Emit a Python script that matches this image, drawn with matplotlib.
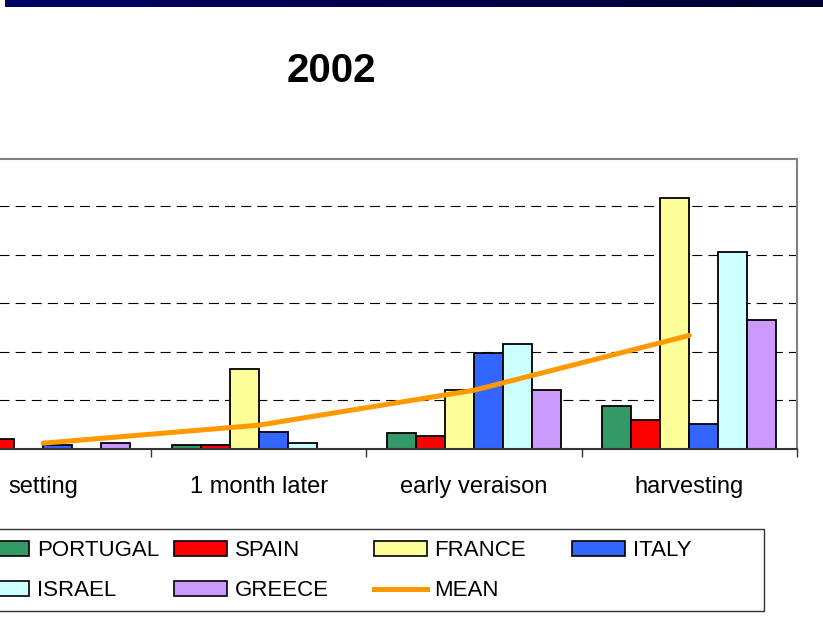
import matplotlib
matplotlib.use('Agg')
import matplotlib.pyplot as plt
import numpy as np
from matplotlib.patches import Patch, Rectangle
from matplotlib.lines import Line2D
from matplotlib.colors import LinearSegmentedColormap

plt.rcParams['font.family'] = ['Liberation Sans', 'DejaVu Sans']

# stages and values (y units = one gridline step)
stages = ['setting', '1 month later', 'early veraison', 'harvesting']
countries = ['PORTUGAL', 'SPAIN', 'FRANCE', 'ITALY', 'ISRAEL', 'GREECE']
portugal = [0.30, 0.08, 0.32, 0.88]
spain = [0.20, 0.08, 0.27, 0.60]
france = [0.00, 1.64, 1.21, 5.18]
italy = [0.08, 0.36, 1.97, 0.52]
israel = [0.00, 0.12, 2.17, 4.05]
greece = [0.12, 0.00, 1.21, 2.65]
mean = [0.12, 0.49, 1.21, 2.34]

colors = ['#339966', '#FF0000', '#FFFF99', '#3366FF', '#CCFFFF', '#CC99FF']
series = [portugal, spain, france, italy, israel, greece]

W, H = 823, 627
fig = plt.figure(figsize=(W / 100, H / 100), dpi=100)

# top banner
band = fig.add_axes([5 / W, 1 - 7.5 / H, (W - 5) / W, 7.5 / H])
cmap = LinearSegmentedColormap.from_list('band', ['#000066', '#000033'])
band.imshow(np.linspace(0, 1, 256).reshape(1, -1), aspect='auto', cmap=cmap)
band.set_axis_off()

# title
fig.text(331.5 / W, 1 - 81.5 / H, '2002', ha='center', va='baseline',
         fontsize=29, fontweight='bold')

# plot area extends past the left edge of the picture
ax = fig.add_axes([-64.5 / W, 1 - 449 / H, 861.5 / W, (449 - 158.7) / H])
x = np.arange(len(stages))
bw = 0.1346
for i, (vals, c, name) in enumerate(zip(series, colors, countries)):
    ax.bar(x + (i - 2.5) * bw, vals, width=bw, color=c, edgecolor='black',
           linewidth=1.3, zorder=2, label=name)
ax.plot(x, mean, color='#FF9900', linewidth=3.6, solid_capstyle='round',
        solid_joinstyle='round', zorder=3, label='MEAN')

ax.set_xlim(-0.5, 3.5)
ax.set_ylim(0, 5.98)
ax.set_yticks(np.arange(0, 6, 1))
ax.yaxis.grid(True, linestyle=(0, (9, 5.5)), color='black', linewidth=0.8)
ax.set_axisbelow(True)
ax.tick_params(axis='y', length=0, labelleft=False)

ax.set_xticks([0.5, 1.5, 2.5, 3.5])
ax.set_xticklabels([])
ax.tick_params(axis='x', which='major', direction='out', length=5.8,
               width=1, color='#333333')
ax.set_xticks(x, minor=True)
ax.set_xticklabels(stages, minor=True, fontsize=17)
ax.tick_params(axis='x', which='minor', length=0, pad=19.5)

for s in ['top', 'right']:
    ax.spines[s].set_color('#808080')
    ax.spines[s].set_linewidth(1.5)
ax.spines['bottom'].set_color('#333333')
ax.spines['bottom'].set_linewidth(1.5)
ax.spines['left'].set_visible(False)

# legend: four columns placed like the original, one frame around them
patches = [Patch(facecolor=c, edgecolor='black', linewidth=1.2) for c in colors]
mean_handle = Line2D([], [], color='#FF9900', linewidth=3.6)
columns = [
    ([patches[0], patches[4]], [countries[0], countries[4]], -24),
    ([patches[1], patches[5]], [countries[1], countries[5]], 174),
    ([patches[2], mean_handle], [countries[2], 'MEAN'], 373.7),
    ([patches[3]], [countries[3]], 572),
]
for hs, ls, px in columns:
    fig.legend(hs, ls, loc='upper left', bbox_to_anchor=(px / W, 1 - 540.2 / H),
               frameon=False, borderpad=0, borderaxespad=0, fontsize=16,
               handlelength=2.39, handleheight=0.63, handletextpad=0.35,
               labelspacing=0.85)
fig.patches.append(Rectangle((-0.02, 1 - 610.7 / H), (764 + 16) / W,
                             (610.7 - 529.3) / H, transform=fig.transFigure,
                             fill=False, edgecolor='#333333', linewidth=1))

fig.savefig('out.png', dpi=100)
